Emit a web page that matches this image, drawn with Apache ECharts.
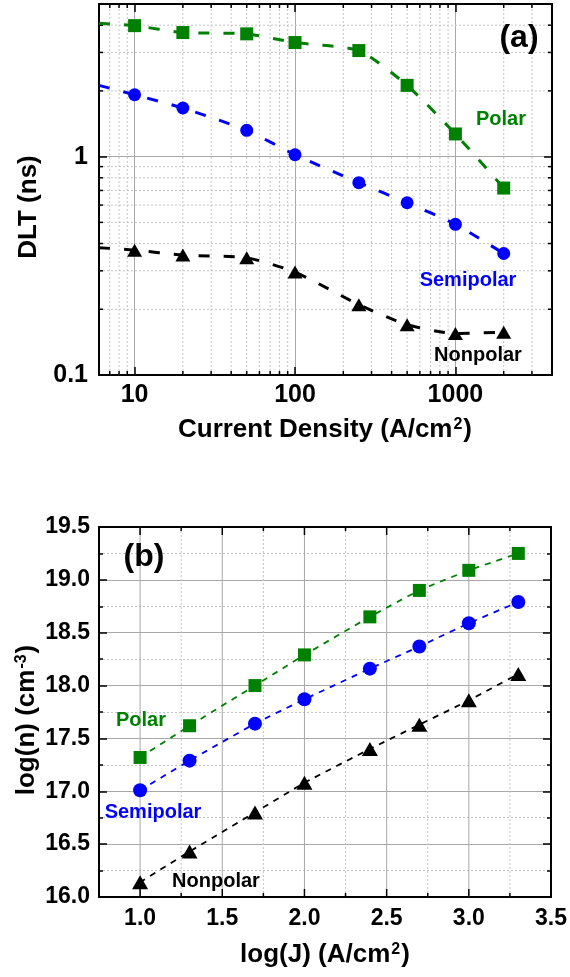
<!DOCTYPE html>
<html><head><meta charset="utf-8">
<script src="https://cdn.jsdelivr.net/npm/echarts@6/dist/echarts.min.js"></script>
<style>html,body{margin:0;padding:0;background:#fff}#c{width:570px;height:977px}</style>
</head><body><div id="c"></div>
<script>
// ---------- Panel (a): DLT vs current density ----------
const currentDensity = [10, 20, 50, 100, 250, 500, 1000, 2000];
const dltPolar       = [3.98, 3.70, 3.65, 3.33, 3.06, 2.12, 1.27, 0.718];
const dltSemipolar   = [1.92, 1.67, 1.32, 1.02, 0.76, 0.615, 0.49, 0.36];
const dltNonpolar    = [0.373, 0.354, 0.344, 0.296, 0.21, 0.17, 0.155, 0.157];
// left ends of the dashed guide curves (read at the axis minimum)
const curveStartJ = 6;
const curveStartPolar = 4.08;
const curveStartSemipolar = 2.12;
const curveStartNonpolar = 0.383;
const xTicksA = [10, 100, 1000];
const yTicksA = [0.1, 1];
const minorTicksJ = [7, 8, 9, 20, 30, 40, 50, 60, 70, 80, 90, 200, 300, 400, 500, 600, 700, 800, 900, 2000, 3000];
const minorTicksDLT = [0.2, 0.3, 0.4, 0.5, 0.6, 0.7, 0.8, 0.9, 2, 3, 4];

// ---------- Panel (b): log(n) vs log(J) ----------
const logJ          = [1.0, 1.301, 1.699, 2.0, 2.398, 2.699, 3.0, 3.301];
const lognPolar     = [17.32, 17.62, 18.00, 18.29, 18.65, 18.90, 19.09, 19.25];
const lognSemipolar = [17.01, 17.29, 17.64, 17.87, 18.16, 18.37, 18.59, 18.79];
const lognNonpolar  = [16.14, 16.43, 16.80, 17.08, 17.40, 17.63, 17.86, 18.11];
const majorTicksLogJ = [1.0, 1.5, 2.0, 2.5, 3.0];
const minorTicksLogJ = [1.25, 1.75, 2.25, 2.75, 3.25];

const GREEN = '#008000', BLUE = '#0000ff', BLACK = '#000000';
const FONT = '"Liberation Sans", Arial, sans-serif';
const zip = (xs, ys) => xs.map((x, i) => [x, ys[i]]);
const isIn = (arr, v) => arr.some(t => Math.abs(t - v) / t < 1e-6);

const A = { xMin: 6, xMax: 4000, yMin: 0.1, yMax: 5 };
const B = { xMin: 0.75, xMax: 3.5, yMin: 16, yMax: 19.5 };

function axisBase(extra) {
  return Object.assign({
    axisLine: { show: true, onZero: false, lineStyle: { color: '#000', width: 2 } },
    axisTick: { show: true, inside: true, length: 8, lineStyle: { color: '#000', width: 1.5 } },
    axisLabel: { color: '#000', fontFamily: FONT, fontWeight: 'bold' },
  }, extra);
}

function curve(xs, ys, x0, y0, color, gi, dash, width, smooth) {
  return {
    type: 'line', xAxisIndex: gi * 2, yAxisIndex: gi * 2,
    data: (x0 != null ? [[x0, y0]] : []).concat(zip(xs, ys)),
    showSymbol: false, symbol: 'none', smooth: smooth, silent: true, z: 3,
    lineStyle: { color: color, width: width, type: dash }
  };
}
function marks(xs, ys, color, symbol, size, gi) {
  return {
    type: 'scatter', xAxisIndex: gi * 2, yAxisIndex: gi * 2,
    data: zip(xs, ys), symbol: symbol, symbolSize: size, z: 5,
    itemStyle: { color: color, opacity: 1 }
  };
}

// grid lines + inward ticks drawn through the axes' own scales
const MINOR_STYLE = { stroke: '#c4c4c4', lineWidth: 1, lineDash: [2, 2] };
const MAJOR_STYLE = { stroke: '#a8a8a8', lineWidth: 1 };
function gridSeries(gi, values, dir, ext, lineStyle, tickLen) {
  return {
    type: 'custom', xAxisIndex: gi * 2, yAxisIndex: gi * 2, silent: true, z: 1, clip: false,
    data: values.map(v => dir === 'x' ? [v, ext.yMin] : [ext.xMin, v]),
    encode: { x: 0, y: 1 },
    renderItem: function (params, api) {
      let p, q;
      if (dir === 'x') {
        const v = api.value(0);
        p = api.coord([v, ext.yMin]); q = api.coord([v, ext.yMax]);
        return { type: 'group', children: [
          { type: 'line', shape: { x1: p[0], y1: p[1], x2: q[0], y2: q[1] }, style: lineStyle },
          { type: 'line', shape: { x1: p[0], y1: p[1], x2: p[0], y2: p[1] - tickLen }, style: { stroke: '#000', lineWidth: 1.5 } },
          { type: 'line', shape: { x1: q[0], y1: q[1], x2: q[0], y2: q[1] + tickLen }, style: { stroke: '#000', lineWidth: 1.5 } }
        ] };
      } else {
        const v = api.value(1);
        p = api.coord([ext.xMin, v]); q = api.coord([ext.xMax, v]);
        return { type: 'group', children: [
          { type: 'line', shape: { x1: p[0], y1: p[1], x2: q[0], y2: q[1] }, style: lineStyle },
          { type: 'line', shape: { x1: p[0], y1: p[1], x2: p[0] + tickLen, y2: p[1] }, style: { stroke: '#000', lineWidth: 1.5 } },
          { type: 'line', shape: { x1: q[0], y1: q[1], x2: q[0] - tickLen, y2: q[1] }, style: { stroke: '#000', lineWidth: 1.5 } }
        ] };
      }
    }
  };
}

const gridLine = { show: true, lineStyle: { color: '#a8a8a8', width: 1, type: 'solid' } };
const minorGridLine = { show: true, lineStyle: { color: '#c4c4c4', width: 1, type: [2, 2] } };
const minorTick = { show: true, splitNumber: 2, length: 4, lineStyle: { color: '#000', width: 1.5 } };

function txt(text, x, y, size, color, align, rot, rich) {
  return {
    type: 'text', x: x, y: y, rotation: rot || 0, silent: true, z: 100,
    style: { text: text, fill: color, font: 'bold ' + size + 'px ' + FONT,
      textAlign: align || 'center', textVerticalAlign: 'middle', rich: rich }
  };
}
const supRich = (base) => ({
  b: { fontSize: base, fontWeight: 'bold', fontFamily: FONT, color: '#000' },
  s: { fontSize: Math.round(base * 0.6), fontWeight: 'bold', fontFamily: FONT, color: '#000', verticalAlign: 'top', padding: [0, 1, 0, 1] }
});

const option = {
  animation: false,
  backgroundColor: '#fff',
  grid: [
    { left: 99, top: 4, width: 453, height: 371, containLabel: false },
    { left: 99, top: 527, width: 453, height: 370, containLabel: false }
  ],
  xAxis: [
    axisBase({ type: 'log', gridIndex: 0, position: 'bottom', min: A.xMin, max: A.xMax,
      axisLabel: { color: '#000', fontFamily: FONT, fontWeight: 'bold', fontSize: 25, margin: 8,
        formatter: v => isIn(xTicksA, v) ? String(Math.round(v)) : '' },
      splitLine: gridLine }),
    axisBase({ type: 'log', gridIndex: 0, position: 'top', min: A.xMin, max: A.xMax,
      axisLabel: { show: false }, splitLine: { show: false } }),
    axisBase({ type: 'value', gridIndex: 1, position: 'bottom', min: B.xMin, max: B.xMax, interval: 0.25,
      axisTick: { show: false },
      axisLabel: { color: '#000', fontFamily: FONT, fontWeight: 'bold', fontSize: 23, margin: 10,
        formatter: v => (Math.abs(v * 2 - Math.round(v * 2)) < 1e-6) ? v.toFixed(1) : '' },
      splitLine: { show: false } }),
    axisBase({ type: 'value', gridIndex: 1, position: 'top', min: B.xMin, max: B.xMax, interval: 0.25,
      axisTick: { show: false }, axisLabel: { show: false }, splitLine: { show: false } })
  ],
  yAxis: [
    axisBase({ type: 'log', gridIndex: 0, position: 'left', min: A.yMin, max: A.yMax,
      axisLabel: { color: '#000', fontFamily: FONT, fontWeight: 'bold', fontSize: 25, margin: 11,
        formatter: v => isIn(yTicksA, v) ? String(+v.toPrecision(4)) : '' },
      splitLine: gridLine }),
    axisBase({ type: 'log', gridIndex: 0, position: 'right', min: A.yMin, max: A.yMax,
      axisLabel: { show: false }, splitLine: { show: false } }),
    axisBase({ type: 'value', gridIndex: 1, position: 'left', min: B.yMin, max: B.yMax, interval: 0.5,
      axisLabel: { color: '#000', fontFamily: FONT, fontWeight: 'bold', fontSize: 23, margin: 9,
        formatter: v => v.toFixed(1) },
      splitLine: gridLine, minorTick: minorTick, minorSplitLine: minorGridLine }),
    axisBase({ type: 'value', gridIndex: 1, position: 'right', min: B.yMin, max: B.yMax, interval: 0.5,
      axisLabel: { show: false }, splitLine: { show: false }, minorTick: minorTick })
  ],
  series: [
    gridSeries(0, minorTicksJ, 'x', A, MINOR_STYLE, 4),
    gridSeries(0, minorTicksDLT, 'y', A, MINOR_STYLE, 4),
    gridSeries(1, minorTicksLogJ, 'x', B, MINOR_STYLE, 4),
    gridSeries(1, majorTicksLogJ, 'x', B, MAJOR_STYLE, 8),
    curve(currentDensity, dltPolar, curveStartJ, curveStartPolar, GREEN, 0, [11, 14], 3, 0.2),
    curve(currentDensity, dltSemipolar, curveStartJ, curveStartSemipolar, BLUE, 0, [11, 14], 3, 0.2),
    curve(currentDensity, dltNonpolar, curveStartJ, curveStartNonpolar, BLACK, 0, [11, 14], 3, 0.2),
    marks(currentDensity, dltPolar, GREEN, 'rect', 13, 0),
    marks(currentDensity, dltSemipolar, BLUE, 'circle', 13, 0),
    marks(currentDensity, dltNonpolar, BLACK, 'triangle', [15, 13], 0),
    curve(logJ, lognPolar, null, null, GREEN, 1, [6, 6], 1.8, 0.15),
    curve(logJ, lognSemipolar, null, null, BLUE, 1, [6, 6], 1.8, 0.15),
    curve(logJ, lognNonpolar, null, null, BLACK, 1, [6, 6], 1.8, 0.15),
    marks(logJ, lognPolar, GREEN, 'rect', 13, 1),
    marks(logJ, lognSemipolar, BLUE, 'circle', 14, 1),
    marks(logJ, lognNonpolar, BLACK, 'triangle', [16, 14], 1)
  ],
  graphic: [
    txt('(a)', 519, 38, 32, '#000'),
    txt('Polar', 501, 119, 20, GREEN),
    txt('Semipolar', 468, 280, 20, BLUE),
    txt('Nonpolar', 478, 355, 20, BLACK),
    txt('(b)', 144, 557, 32, '#000'),
    txt('Polar', 141, 720, 20, GREEN),
    txt('Semipolar', 153, 812, 20, BLUE),
    txt('Nonpolar', 216, 881, 20, BLACK),
    txt('DLT (ns)', 29, 207, 26, '#000', 'center', Math.PI / 2),
    txt('{b|Current Density (A/cm}{s|2}{b|)}', 325, 430, 26, '#000', 'center', 0, supRich(26)),
    txt('{b|log(J) (A/cm}{s|2}{b|)}', 325, 955, 26, '#000', 'center', 0, supRich(26)),
    txt('{b|log(n) (cm}{s|-3}{b|)}', 27, 720, 26, '#000', 'center', Math.PI / 2, supRich(26))
  ]
};

const chart = echarts.init(document.getElementById('c'), null, { renderer: 'canvas' });
chart.setOption(option);
</script>
</body></html>
